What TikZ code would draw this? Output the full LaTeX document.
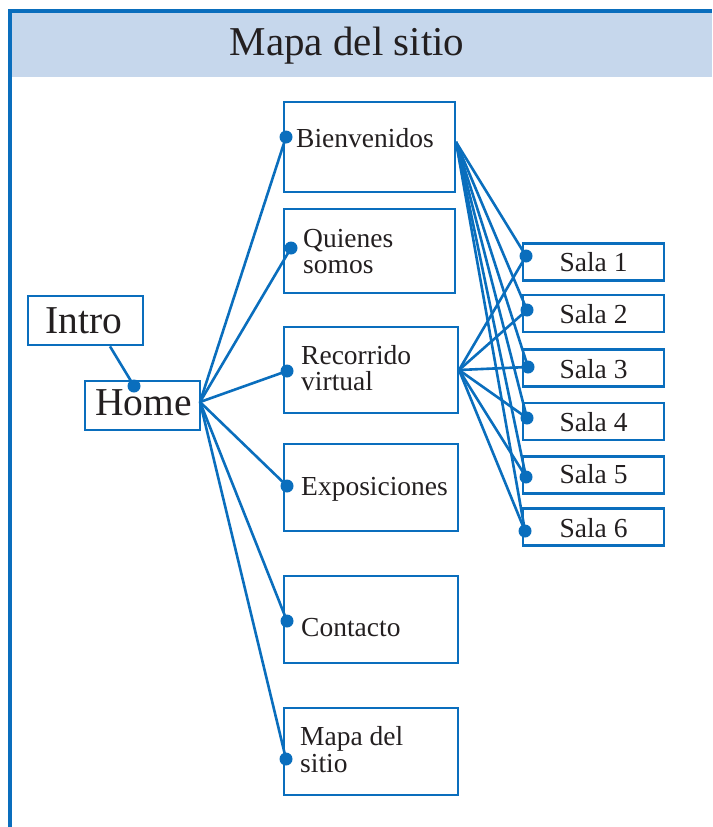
\documentclass[tikz,border=0pt]{standalone}
\usepackage{fontspec}
\setmainfont{Liberation Serif}
\definecolor{lineblue}{HTML}{0A6EBD}
\definecolor{headfill}{HTML}{C6D7EC}
\definecolor{inkgray}{HTML}{231F20}
\begin{document}
\begin{tikzpicture}[x=1pt,y=-1pt,
  box/.style={draw=lineblue,line width=2.8pt,inner sep=0pt,rectangle},
  txt/.style={anchor=base west,inner sep=0pt,text=inkgray,font=\fontsize{27.5}{27.5}\selectfont},
  bigtxt/.style={anchor=base west,inner sep=0pt,text=inkgray,font=\fontsize{39.5}{39.5}\selectfont},
  link/.style={draw=lineblue,line width=2.6pt},
  dot/.style={fill=lineblue,circle,inner sep=0pt,minimum size=13pt}]
\useasboundingbox (0,0) rectangle (712,827);
% frame and header
\fill[headfill] (11,12) rectangle (712,77);
\draw[lineblue,line width=3.2pt] (10,827) -- (10,11) -- (712,11);
\node[anchor=base,inner sep=0pt,text=inkgray,font=\fontsize{41}{41}\selectfont] (title) at (347,55) {Mapa del sitio};
% left boxes
\node[box,minimum width=115pt,minimum height=49pt] (intro) at (85.5,320.5) {};
\node[bigtxt] (tintro) at (45,333) {Intro};
\node[box,minimum width=115pt,minimum height=49pt] (home) at (142.5,405.5) {};
\node[bigtxt] (thome) at (95,415) {Home};
% middle boxes
\node[box,minimum width=171pt,minimum height=90pt] (bien) at (369.5,147) {};
\node[box,minimum width=171pt,minimum height=84pt] (quien) at (369.5,251) {};
\node[box,minimum width=174pt,minimum height=86pt] (reco) at (371,370) {};
\node[box,minimum width=174pt,minimum height=87pt] (expo) at (371,487.5) {};
\node[box,minimum width=174pt,minimum height=87pt] (cont) at (371,619.5) {};
\node[box,minimum width=174pt,minimum height=87pt] (mapa) at (371,751.5) {};
\node[txt] (tbien) at (296,147) {Bienvenidos};
\node[txt] (tquien1) at (303,247) {Quienes};
\node[txt] (tquien2) at (303,273) {somos};
\node[txt] (treco1) at (301,364) {Recorrido};
\node[txt] (treco2) at (301,390) {virtual};
\node[txt] (texpo) at (301,495) {Exposiciones};
\node[txt] (tcont) at (301,636) {Contacto};
\node[txt] (tmapa1) at (300,745) {Mapa del};
\node[txt] (tmapa2) at (300,772) {sitio};
% sala boxes
\foreach \i/\y/\b in {1/262/271,2/313.5/323,3/368/378,4/421.5/431,5/475/483,6/527/537}{
  \node[box,minimum width=141pt,minimum height=37pt] (s\i) at (593.5,\y) {};
  \node[anchor=base,inner sep=0pt,text=inkgray,font=\fontsize{27.5}{27.5}\selectfont] (ts\i) at (593.5,\b) {Sala \i};
}
% connection points
\coordinate (hh) at (200,402);
\coordinate (bh) at (456,142);
\coordinate (rh) at (459,370);
\node[dot] (dhome) at (134,386) {};
\node[dot] (dbien) at (286,137) {};
\node[dot] (dquien) at (291,248) {};
\node[dot] (dreco) at (287,371) {};
\node[dot] (dexpo) at (287,486) {};
\node[dot] (dcont) at (287,621) {};
\node[dot] (dmapa) at (286,759) {};
\node[dot] (ds1) at (526,256) {};
\node[dot] (ds2) at (527,310) {};
\node[dot] (ds3) at (528,367) {};
\node[dot] (ds4) at (527,418) {};
\node[dot] (ds5) at (526,477) {};
\node[dot] (ds6) at (525,531) {};
% links
\draw[link] (intro.south -| 110,0) -- (dhome.center);
\foreach \t in {dbien,dquien,dreco,dexpo,dcont,dmapa}{
  \draw[link] (hh) -- (\t.center);
}
\foreach \t in {ds1,ds2,ds3,ds4,ds5,ds6}{
  \draw[link] (bh) -- (\t.center);
  \draw[link] (rh) -- (\t.center);
}
\end{tikzpicture}
\end{document}
